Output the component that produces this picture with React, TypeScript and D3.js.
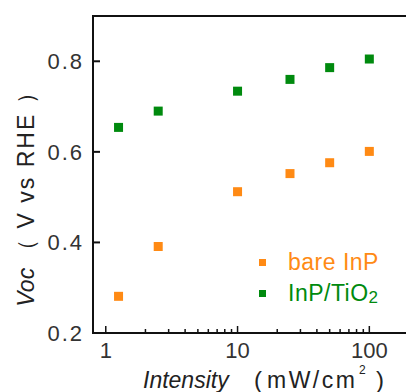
import React from "react";
import * as d3 from "d3";

const intensities = [1.25, 2.5, 10, 25, 50, 100];
const bareInP = [0.281, 0.391, 0.512, 0.552, 0.576, 0.601];
const inpTiO2 = [0.654, 0.690, 0.734, 0.760, 0.786, 0.805];
const yTicks = [0.2, 0.4, 0.6, 0.8];
const xTickLabels = [1, 10, 100];
const seriesNames = ["bare InP", "InP/TiO"];
const seriesColors = ["#ff8a14", "#008a0e"];

const W = 406, H = 392;
const left = 93, top = 16, bottom = 333, right = 409;
const font = "'Liberation Sans', Arial, sans-serif";

export default function App() {
  const x = d3.scaleLog().domain([0.8, 200]).range([left, right]);
  const y = d3.scaleLinear().domain([0.2, 0.9]).range([bottom, top]);
  const minor: number[] = [];
  for (const dec of [1, 10, 100]) for (let k = 1; k <= 9; k++) {
    const v = dec * k;
    if (v >= 0.8 && v <= 200 && k !== 1) minor.push(v);
  }
  const ms = 9;
  const series = [bareInP, inpTiO2];
  return (
    <svg width={W} height={H} style={{ position: "absolute", left: 0, top: 0 }}>
      <rect width={W} height={H} fill="white" />
      <path d={`M${right},${top}H${left}V${bottom}H${right}`} fill="none" stroke="#111" strokeWidth={2} />
      {yTicks.map((t) => (
        <g key={t}>
          <line x1={left} x2={left + 7} y1={y(t)} y2={y(t)} stroke="#111" strokeWidth={2} />
          <text x={84} y={y(t) + 8} textAnchor="end" fontFamily={font} fontSize={22} letterSpacing={2} fill="#333">
            {t.toFixed(1)}
          </text>
        </g>
      ))}
      {xTickLabels.map((t) => (
        <g key={t}>
          <line x1={x(t)} x2={x(t)} y1={bottom} y2={bottom - 7} stroke="#111" strokeWidth={1.5} />
          <text x={x(t)} y={358} textAnchor="middle" fontFamily={font} fontSize={22} fill="#333">
            {t}
          </text>
        </g>
      ))}
      {minor.map((t) => (
        <line key={t} x1={x(t)} x2={x(t)} y1={bottom} y2={bottom - 4} stroke="#111" strokeWidth={1.5} />
      ))}
      {series.map((s, si) =>
        s.map((v, i) => (
          <rect key={si + "-" + i} x={x(intensities[i]) - ms / 2} y={y(v) - ms / 2} width={ms} height={ms} fill={seriesColors[si]} />
        ))
      )}
      {seriesNames.map((n, i) => (
        <g key={n}>
          <rect x={259} y={259 + i * 31} width={7} height={7} fill={seriesColors[i]} />
          <text x={288} y={270 + i * 31} fontFamily={font} fontSize={23} letterSpacing={0.5} fill={seriesColors[i]}>
            {n}
            {i === 1 ? <tspan fontSize={17} dy={2}>2</tspan> : null}
          </text>
        </g>
      ))}
      <g fontFamily={font} fill="#222">
        <text x={143} y={388} fontSize={23} fontStyle="italic">Intensity</text>
        <text x={254} y={388} fontSize={24}>(</text>
        <text x={267} y={388} fontSize={23} letterSpacing={2.5}>mW/cm</text>
        <text x={359} y={374} fontSize={12}>2</text>
        <text x={376} y={388} fontSize={24}>)</text>
      </g>
      <text transform={`translate(34,193) rotate(-90)`} textAnchor="middle" fontFamily={font} fontSize={23} fill="#222">
        <tspan fontStyle="italic">Voc</tspan>
        <tspan dx={6} letterSpacing={2}>（ V   vs   RHE ）</tspan>
      </text>
    </svg>
  );
}
